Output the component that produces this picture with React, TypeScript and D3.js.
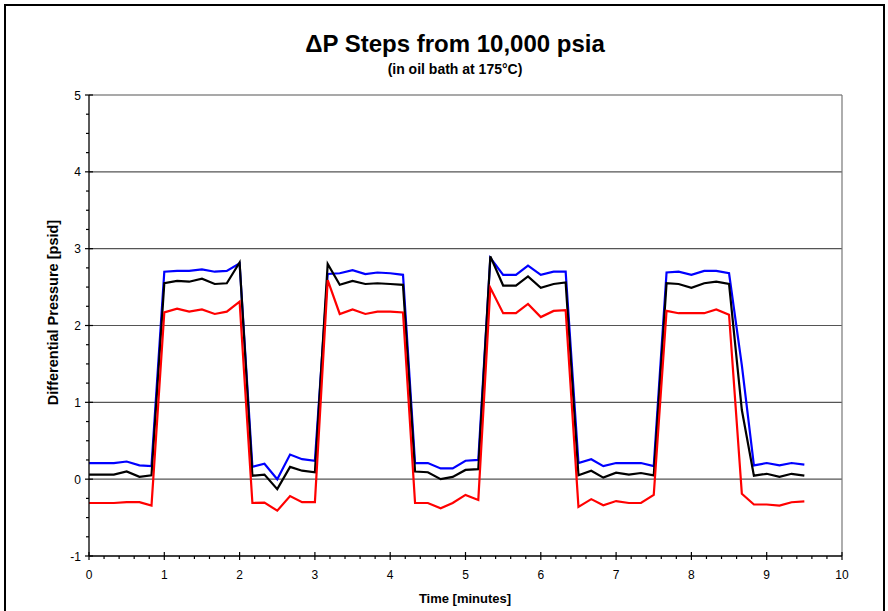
import React from "react";
import * as d3 from "d3";

const times = [0, 0.17, 0.33, 0.5, 0.67, 0.83, 1, 1.17, 1.33, 1.5, 1.67, 1.83, 2, 2.17, 2.33, 2.5, 2.67, 2.83, 3, 3.17, 3.33, 3.5, 3.67, 3.83, 4, 4.17, 4.33, 4.5, 4.67, 4.83, 5, 5.17, 5.33, 5.5, 5.67, 5.83, 6, 6.17, 6.33, 6.5, 6.67, 6.83, 7, 7.17, 7.33, 7.5, 7.67, 7.83, 8, 8.17, 8.33, 8.5, 8.67, 8.83, 9, 9.17, 9.33, 9.5];

const blueSeries = [0.21, 0.21, 0.21, 0.23, 0.18, 0.17,
  2.70, 2.71, 2.71, 2.73, 2.70, 2.71, 2.81,
  0.16, 0.20, 0.00, 0.32, 0.26, 0.24,
  2.67, 2.68, 2.72, 2.67, 2.69, 2.68, 2.66,
  0.21, 0.21, 0.14, 0.14, 0.24, 0.25,
  2.88, 2.66, 2.66, 2.78, 2.66, 2.70, 2.70,
  0.21, 0.26, 0.17, 0.21, 0.21, 0.21, 0.17,
  2.69, 2.70, 2.66, 2.71, 2.71, 2.68,
  1.48, 0.18, 0.21, 0.18, 0.21, 0.19];

const blackSeries = [0.06, 0.06, 0.06, 0.10, 0.03, 0.05,
  2.55, 2.58, 2.57, 2.61, 2.54, 2.55, 2.82,
  0.045, 0.06, -0.13, 0.16, 0.11, 0.09,
  2.80, 2.53, 2.58, 2.54, 2.55, 2.54, 2.53,
  0.10, 0.09, 0.00, 0.03, 0.12, 0.13,
  2.90, 2.52, 2.52, 2.64, 2.49, 2.54, 2.56,
  0.05, 0.11, 0.02, 0.085, 0.06, 0.08, 0.05,
  2.55, 2.54, 2.49, 2.55, 2.57, 2.54,
  0.90, 0.045, 0.07, 0.03, 0.07, 0.045];

const redSeries = [-0.31, -0.31, -0.31, -0.30, -0.30, -0.345,
  2.17, 2.22, 2.18, 2.21, 2.15, 2.18, 2.31,
  -0.31, -0.305, -0.41, -0.22, -0.30, -0.30,
  2.59, 2.15, 2.21, 2.15, 2.18, 2.18, 2.17,
  -0.31, -0.31, -0.38, -0.31, -0.205, -0.27,
  2.49, 2.16, 2.16, 2.28, 2.11, 2.19, 2.20,
  -0.36, -0.26, -0.34, -0.285, -0.31, -0.31, -0.205,
  2.19, 2.16, 2.16, 2.16, 2.21, 2.14,
  -0.19, -0.33, -0.33, -0.345, -0.30, -0.29];

const xTicks = [0, 1, 2, 3, 4, 5, 6, 7, 8, 9, 10];
const yTicks = [-1, 0, 1, 2, 3, 4, 5];

const titleText = "\u0394P Steps from 10,000 psia";
const subtitleText = "(in oil bath at 175\u00B0C)";
const xLabel = "Time [minutes]";
const yLabel = "Differential Pressure [psid]";

const W = 888, H = 611;
const L = 89, R = 842, T = 95, B = 556;
const FONT = "'Liberation Sans', Arial, sans-serif";

export default function App() {
  const x = d3.scaleLinear().domain([0, 10]).range([L, R]);
  const y = d3.scaleLinear().domain([-1, 5]).range([B, T]);
  const line = d3.line<[number, number]>().x(d => x(d[0])).y(d => y(d[1]));
  const series = [
    { vals: blueSeries, color: "#0000ff" },
    { vals: blackSeries, color: "#000000" },
    { vals: redSeries, color: "#ff0000" },
  ];
  const xMinor = d3.range(0, 10.001, 0.2).map(v => +v.toFixed(2)).filter(v => Math.abs(v - Math.round(v)) > 1e-6);
  const yMinor = d3.range(-1, 5.001, 0.25).map(v => +v.toFixed(2)).filter(v => Math.abs(v - Math.round(v)) > 1e-6);

  return (
    <svg width={W} height={H} style={{ position: "absolute", left: 0, top: 0, background: "#fff" }} fontFamily={FONT}>
      <rect x={0} y={0} width={W} height={H} fill="#fff" />
      <path d={`M5,${H + 5}V5H884V${H + 5}`} fill="none" stroke="#000" strokeWidth={2} />
      <text x={455} y={52} textAnchor="middle" fontSize={24} fontWeight="bold">{titleText}</text>
      <text x={455} y={74} textAnchor="middle" fontSize={14} fontWeight="bold">{subtitleText}</text>
      {yTicks.filter(v => v > -1).map(v => (
        <line key={"g" + v} x1={L} x2={R} y1={y(v)} y2={y(v)} stroke="#555" strokeWidth={1.2} />
      ))}
      <line x1={R} x2={R} y1={T} y2={B} stroke="#777" strokeWidth={1.2} />
      {series.map((s, i) => (
        <path key={i} d={line(times.map((t, j) => [t, s.vals[j]]) as [number, number][]) || ""} fill="none" stroke={s.color} strokeWidth={2.2} strokeLinejoin="miter" />
      ))}
      <line x1={L} x2={L} y1={T} y2={B} stroke="#000" strokeWidth={1.3} />
      <line x1={L} x2={R} y1={B} y2={B} stroke="#000" strokeWidth={1.3} />
      {yTicks.map(v => (
        <g key={"yt" + v}>
          <line x1={L - 4} x2={L + 4} y1={y(v)} y2={y(v)} stroke="#000" strokeWidth={1.2} />
          <text x={81} y={y(v) + 4.5} textAnchor="end" fontSize={12}>{v}</text>
        </g>
      ))}
      {yMinor.map(v => (
        <line key={"ym" + v} x1={L - 3} x2={L} y1={y(v)} y2={y(v)} stroke="#000" strokeWidth={1.2} />
      ))}
      {xTicks.map(v => (
        <g key={"xt" + v}>
          <line x1={x(v)} x2={x(v)} y1={B - 4} y2={B + 4} stroke="#000" strokeWidth={1.2} />
          <text x={x(v)} y={B + 23} textAnchor="middle" fontSize={12}>{v}</text>
        </g>
      ))}
      {xMinor.map(v => (
        <line key={"xm" + v} x1={x(v)} x2={x(v)} y1={B} y2={B + 3} stroke="#000" strokeWidth={1.2} />
      ))}
      <text x={465} y={603} textAnchor="middle" fontSize={13} fontWeight="bold">{xLabel}</text>
      <text transform={`translate(58,${(T + B) / 2 - 13}) rotate(-90)`} textAnchor="middle" fontSize={14.5} fontWeight="bold">{yLabel}</text>
    </svg>
  );
}
